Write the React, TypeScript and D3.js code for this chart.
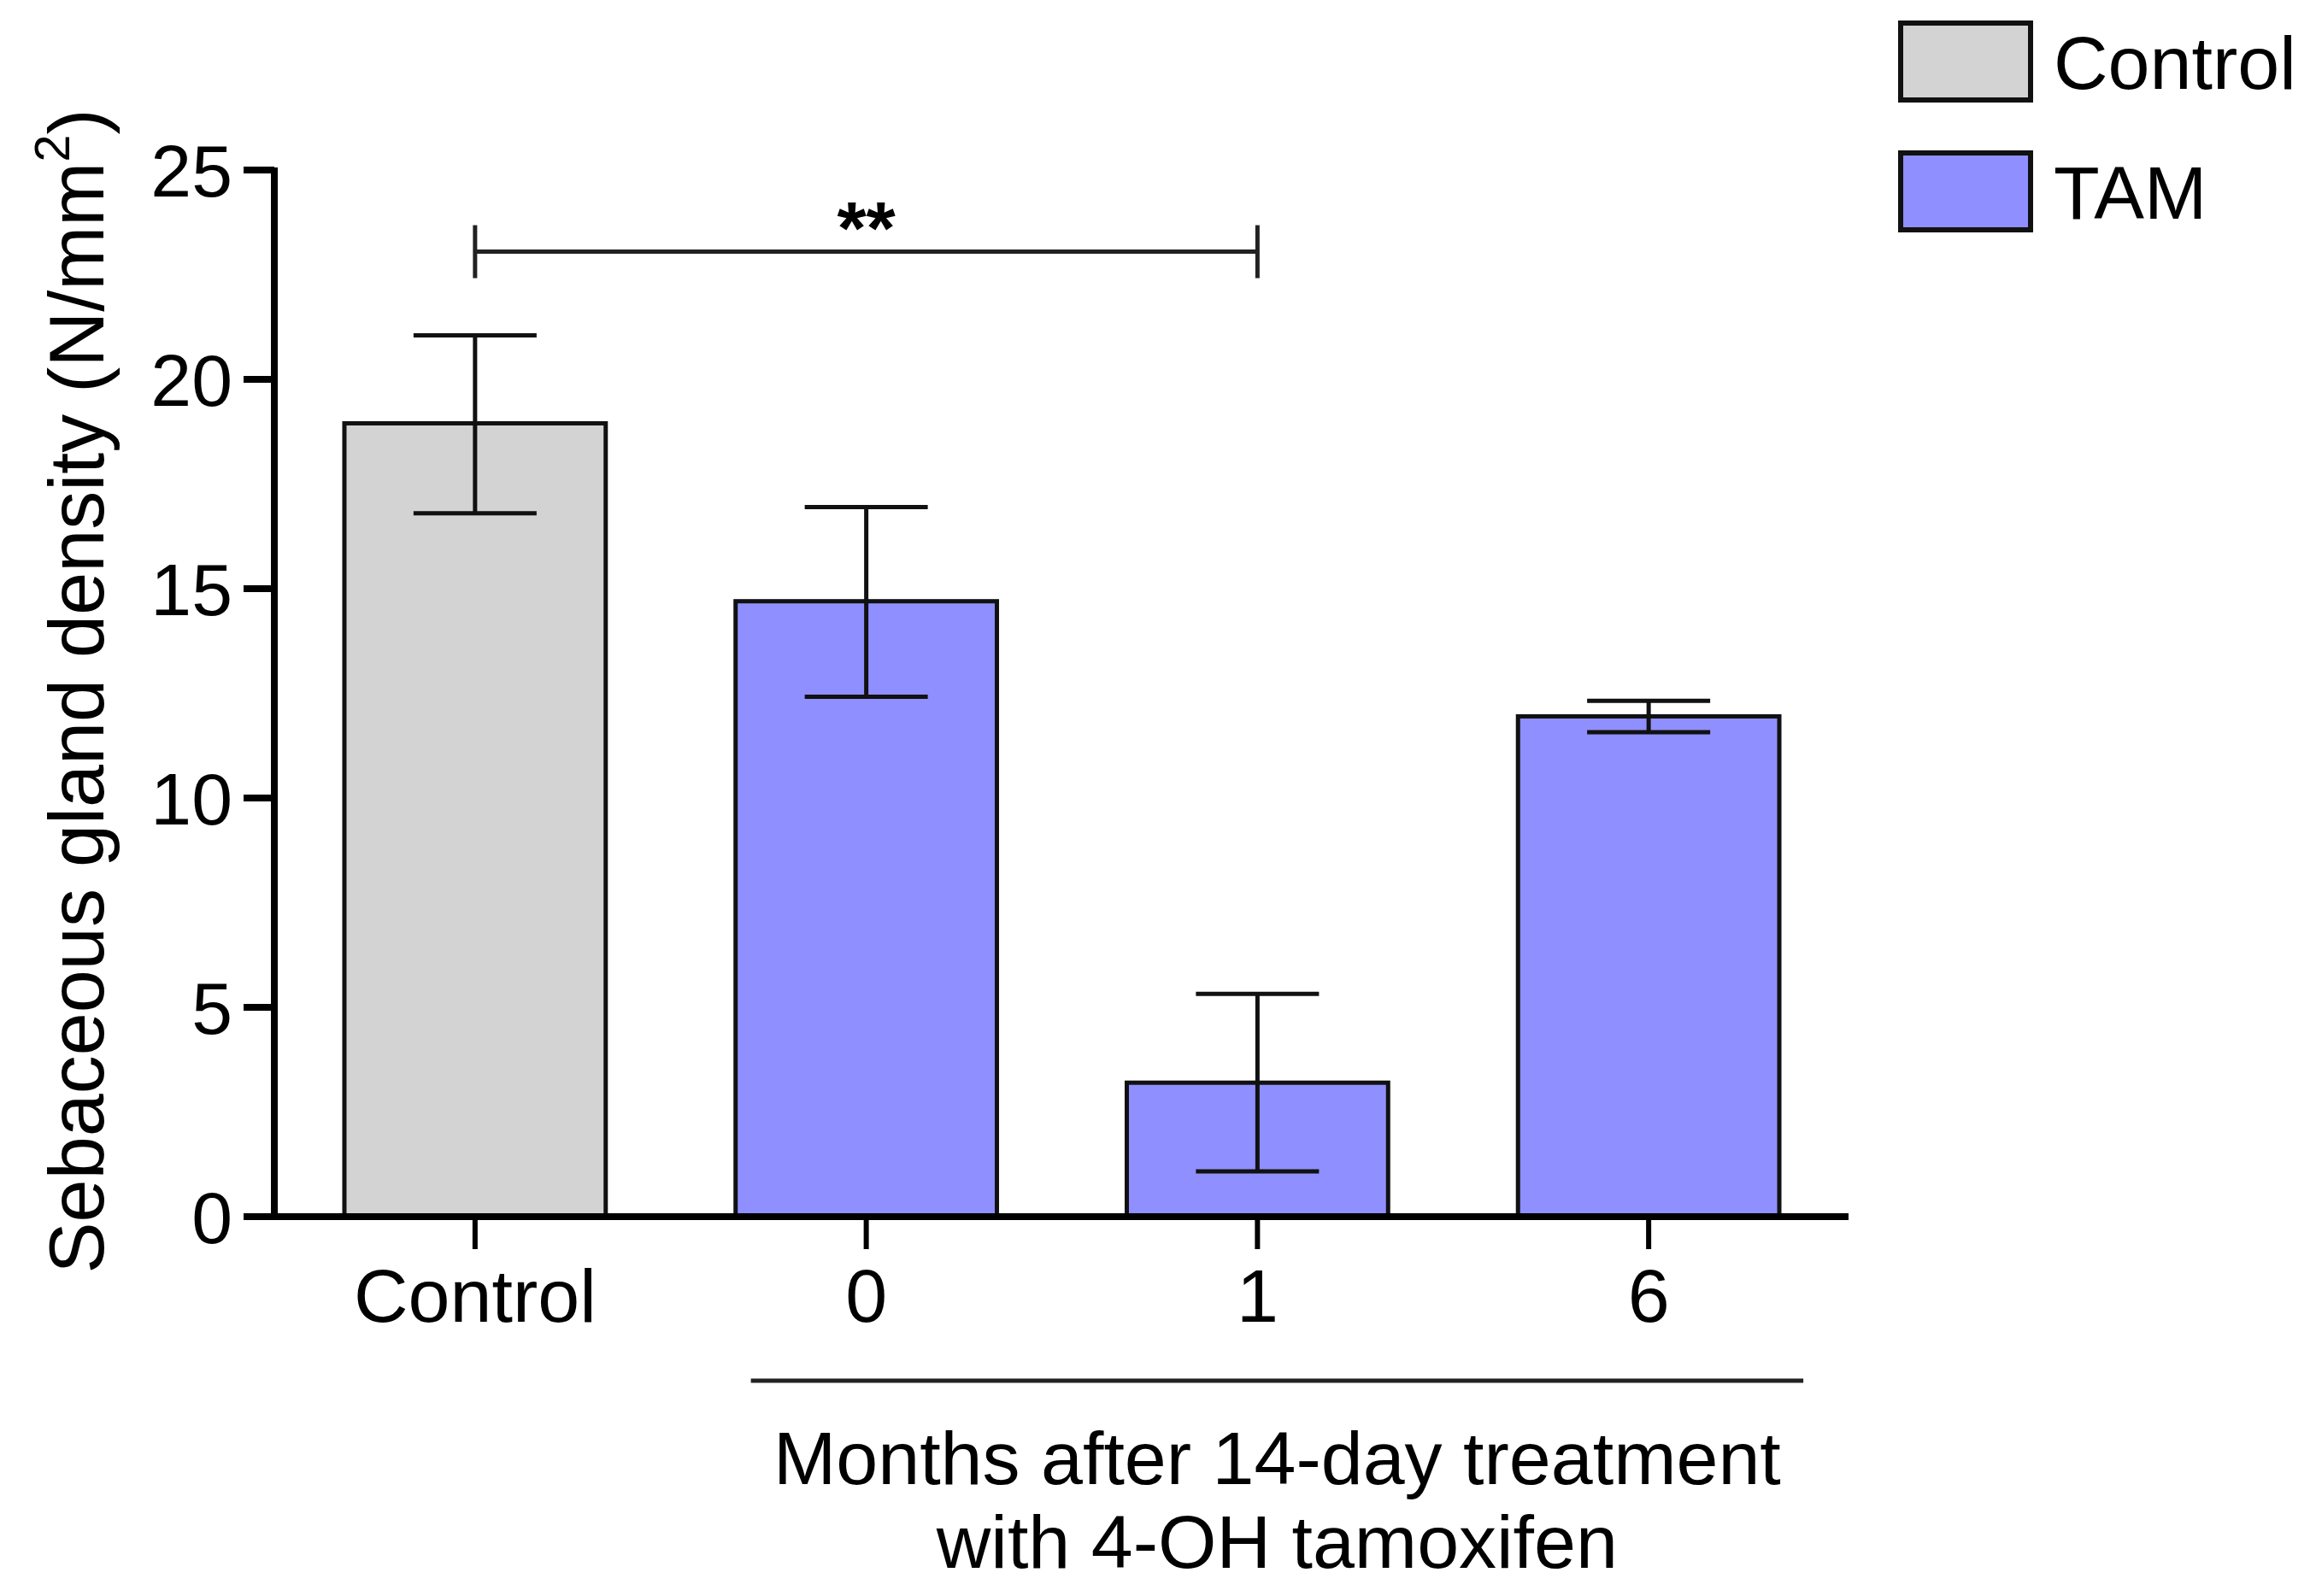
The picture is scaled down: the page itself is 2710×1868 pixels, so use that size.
import React from "react";
import * as d3 from "d3";

const categories = ["Control", "0", "1", "6"];
const groups = ["Control", "TAM", "TAM", "TAM"];
const means = [18.95, 14.7, 3.2, 11.95];
const errUpper = [21.05, 16.95, 5.32, 12.32];
const errLower = [16.8, 12.42, 1.08, 11.57];
const yTicks = [0, 5, 10, 15, 20, 25];
const legendLabels = ["Control", "TAM"];
const sigPair = ["Control", "1"];
const sigLevel = 23.05;
const sigText = "**";

const W = 2710;
const H = 1868;
const FONT = "Liberation Sans, Arial, sans-serif";
const colors: Record<string, string> = { Control: "#d3d3d3", TAM: "#8f8fff" };

export default function App() {
  const y = d3.scaleLinear().domain([0, 25]).range([1424, 199]);
  const x = d3.scaleBand().domain(categories).range([327, 2158]).paddingInner(0.332).paddingOuter(0.166);
  const bw = x.bandwidth();
  const cx = (c: string) => (x(c) as number) + bw / 2;
  const capHalf = 72;
  const axisX = 321;

  const sigX1 = cx(sigPair[0]);
  const sigX2 = cx(sigPair[1]);
  const sigY = y(sigLevel);

  const tamCats = categories.filter((_, i) => groups[i] === "TAM");
  const brLeft = cx(tamCats[0]) - 135;
  const brRight = cx(tamCats[tamCats.length - 1]) + 181;

  return (
    <svg width={W} height={H} style={{ position: "absolute", left: 0, top: 0, background: "#fff" }} fontFamily={FONT}>
      <rect x={0} y={0} width={W} height={H} fill="#fff" />
      {/* bars */}
      {categories.map((c, i) => (
        <rect key={c} x={x(c)} y={y(means[i])} width={bw} height={y(0) - y(means[i])}
          fill={colors[groups[i]]} stroke="#111" strokeWidth={5} />
      ))}
      {/* error bars */}
      {categories.map((c, i) => (
        <g key={"e" + c} stroke="#111" strokeWidth={5}>
          <line x1={cx(c)} x2={cx(c)} y1={y(errUpper[i])} y2={y(errLower[i])} />
          <line x1={cx(c) - capHalf} x2={cx(c) + capHalf} y1={y(errUpper[i])} y2={y(errUpper[i])} />
          <line x1={cx(c) - capHalf} x2={cx(c) + capHalf} y1={y(errLower[i])} y2={y(errLower[i])} />
        </g>
      ))}
      {/* y axis */}
      <line x1={axisX} x2={axisX} y1={y(25) - 3} y2={y(0) + 3} stroke="#000" strokeWidth={8} />
      {yTicks.map((t) => (
        <g key={"yt" + t}>
          <line x1={285} x2={axisX} y1={y(t)} y2={y(t)} stroke="#000" strokeWidth={8} />
          <text x={272} y={y(t)} dy="0.36em" textAnchor="end" fontSize={86} fill="#000">{t}</text>
        </g>
      ))}
      {/* x axis */}
      <line x1={285} x2={2163} y1={y(0)} y2={y(0)} stroke="#000" strokeWidth={8} />
      {categories.map((c) => (
        <g key={"xt" + c}>
          <line x1={cx(c)} x2={cx(c)} y1={y(0)} y2={y(0) + 38} stroke="#000" strokeWidth={6} />
          <text x={cx(c)} y={1547} textAnchor="middle" fontSize={88} fill="#000">{c}</text>
        </g>
      ))}
      {/* group bracket */}
      <line x1={brLeft} x2={brRight} y1={1616} y2={1616} stroke="#222" strokeWidth={5} />
      <text x={(brLeft + brRight) / 2} y={1737} textAnchor="middle" fontSize={88} fill="#000">Months after 14-day treatment</text>
      <text x={(brLeft + brRight) / 2} y={1835} textAnchor="middle" fontSize={88} fill="#000">with 4-OH tamoxifen</text>
      {/* significance */}
      <g stroke="#222" strokeWidth={5}>
        <line x1={sigX1} x2={sigX2} y1={sigY} y2={sigY} />
        <line x1={sigX1} x2={sigX1} y1={sigY - 31} y2={sigY + 31} />
        <line x1={sigX2} x2={sigX2} y1={sigY - 31} y2={sigY + 31} />
      </g>
      <text x={(sigX1 + sigX2) / 2} y={sigY + 2} textAnchor="middle" fontSize={88} fontWeight="bold" fill="#000">{sigText}</text>
      {/* y label */}
      <text transform="translate(121,809) rotate(-90)" textAnchor="middle" fontSize={90} fill="#000">
        Sebaceous gland density (N/mm<tspan fontSize={58} dy={-40}>2</tspan><tspan dy={40}>)</tspan>
      </text>
      {/* legend */}
      {legendLabels.map((l, i) => (
        <g key={"lg" + l}>
          <rect x={2224} y={27 + i * 152} width={152} height={90} fill={colors[l]} stroke="#111" strokeWidth={6} />
          <text x={2403} y={104 + i * 152} fontSize={88} fill="#000">{l}</text>
        </g>
      ))}
    </svg>
  );
}
